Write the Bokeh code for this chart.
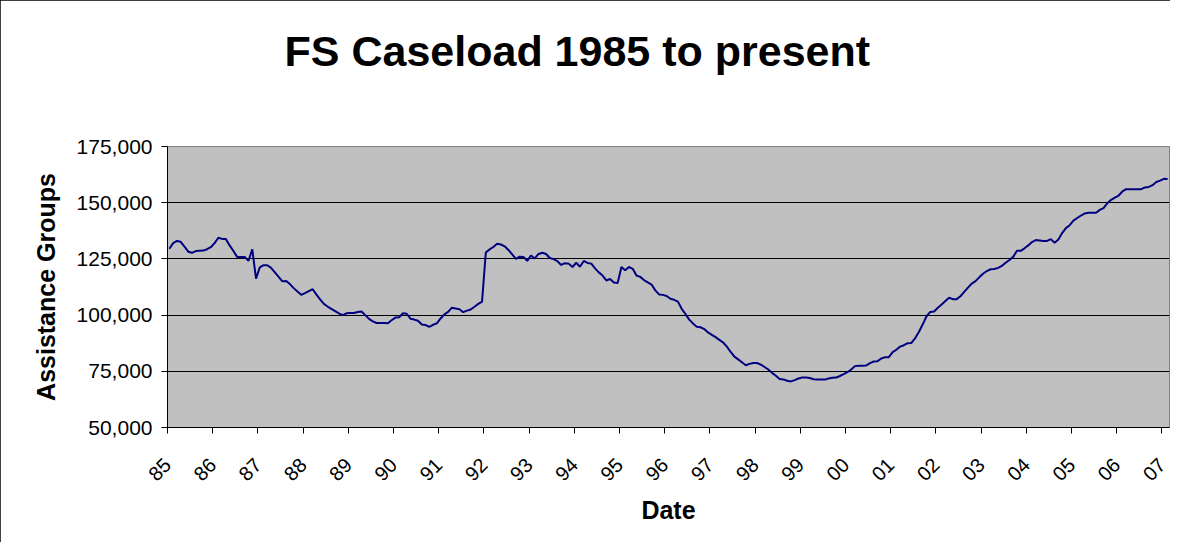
import math
import numpy as np
from bokeh.plotting import figure
from bokeh.models import Range1d, FixedTicker, NumeralTickFormatter, LinearAxis
from bokeh.embed import file_html
from bokeh.resources import INLINE

title_text = "FS Caseload 1985 to present"
x_title = "Date"
y_title = "Assistance Groups"

year_labels = ["85", "86", "87", "88", "89", "90", "91", "92", "93", "94", "95",
               "96", "97", "98", "99", "00", "01", "02", "03", "04", "05", "06", "07"]

# Monthly caseload, Jan 1985 .. Feb 2007
v1985 = [129500, 132000, 133000, 132600, 130500, 128200, 127700, 128500, 128600, 128700, 129300, 130200]
v1986 = [132000, 134400, 133900, 133800, 131000, 128500, 125900, 125900, 125900, 124100, 129300, 116200]
v1987 = [121200, 122200, 122200, 121000, 119000, 117000, 115000, 115200, 113800, 112000, 110500, 109000]
v1988 = [109800, 110700, 111600, 109200, 107000, 105000, 103800, 102800, 101800, 100800, 100000, 100800]
v1989 = [100900, 100900, 101400, 101600, 100000, 98300, 97200, 96500, 96500, 96500, 96400, 97700]
v1990 = [98900, 99000, 100800, 100600, 98400, 98000, 97500, 95800, 95600, 94800, 95700, 96300]
v1991 = [98500, 100300, 101400, 103300, 102900, 102600, 101300, 102000, 102500, 103700, 105000, 106000]
v1992 = [127800, 129200, 130300, 131700, 131400, 130600, 129000, 127000, 125000, 126000, 125900, 124100]
v1993 = [126500, 125200, 127200, 127700, 127200, 125400, 124900, 124000, 122300, 123100, 122900, 121400]
v1994 = [123300, 121500, 124100, 123200, 122900, 120800, 119000, 117600, 115400, 116100, 114500, 114300]
v1995 = [121400, 119900, 121400, 120600, 117600, 117000, 115600, 114600, 113600, 111000, 109200, 109000]
v1996 = [108500, 107300, 106800, 106000, 102800, 100500, 98000, 96300, 94800, 94600, 93800, 92300]
v1997 = [91200, 90200, 89000, 87800, 86000, 83600, 81500, 80300, 79000, 77700, 78300, 78700]
v1998 = [78700, 78000, 76900, 75800, 74300, 73000, 71600, 71400, 70800, 70500, 71100, 71800]
v1999 = [72200, 72200, 72000, 71500, 71300, 71300, 71300, 71800, 72100, 72200, 72900, 73700]
v2000 = [74600, 75800, 77300, 77500, 77500, 77600, 78600, 79400, 79500, 80700, 81300, 81300]
v2001 = [83500, 84600, 86000, 86600, 87500, 87600, 89800, 92600, 95900, 99500, 101400, 101600]
v2002 = [103300, 104700, 106300, 107700, 107100, 107100, 108400, 110300, 112200, 114000, 115100, 116800]
v2003 = [118400, 119600, 120400, 120500, 121000, 121900, 123300, 124500, 125900, 128600, 128600, 129700]
v2004 = [131000, 132500, 133400, 133200, 133000, 133000, 133800, 132200, 133600, 136500, 138700, 140000]
v2005 = [142000, 143200, 144300, 145200, 145500, 145500, 145500, 146800, 147600, 149800, 151300, 152300]
v2006 = [153200, 155000, 156000, 156000, 156000, 156000, 156000, 156800, 157000, 157800, 159200, 159800]
v2007 = [160600, 160500]

caseload = (v1985 + v1986 + v1987 + v1988 + v1989 + v1990 + v1991 + v1992 + v1993 +
            v1994 + v1995 + v1996 + v1997 + v1998 + v1999 + v2000 + v2001 + v2002 +
            v2003 + v2004 + v2005 + v2006 + v2007)

n = len(caseload)
x = np.arange(n) + 0.5  # category centres (monthly)

FONT = "Liberation Sans"

p = figure(width=1170, height=542, output_backend="svg", toolbar_location=None,
           x_range=Range1d(0, n), y_range=Range1d(50000, 175000),
           min_border_left=167, min_border_right=1, min_border_top=146,
           min_border_bottom=115)

p.styles = {"outline": "1px solid black", "outline-offset": "-1px"}

p.border_fill_color = "white"
p.background_fill_color = "#C0C0C0"
p.outline_line_color = "#808080"
p.outline_line_width = 1

# chart title: drawn as the single label of a bare axis above the frame,
# positioned on a 0..1000 helper range (fraction of frame width)
p.extra_x_ranges = {"title_pos": Range1d(0, 1000)}
title_axis = LinearAxis(x_range_name="title_pos", ticker=FixedTicker(ticks=[409]),
                        major_label_overrides={409: title_text},
                        major_tick_line_color=None, minor_tick_line_color=None,
                        axis_line_color=None, major_label_standoff=66,
                        major_label_text_font=FONT, major_label_text_font_size="43px",
                        major_label_text_font_style="bold",
                        major_label_text_color="black")
p.add_layout(title_axis, "above")

p.line(x, caseload, line_color="#000080", line_width=2)

# grid
p.xgrid.visible = False
p.ygrid.grid_line_color = "black"
p.ygrid.grid_line_width = 1

# y axis
p.yaxis.ticker = FixedTicker(ticks=[50000, 75000, 100000, 125000, 150000, 175000])
p.yaxis.formatter = NumeralTickFormatter(format="0,0")
p.yaxis.major_label_text_font = FONT
p.yaxis.major_label_text_font_size = "21px"
p.yaxis.major_label_text_color = "black"
p.yaxis.major_tick_in = 0
p.yaxis.major_tick_out = 6
p.yaxis.minor_tick_line_color = None
p.yaxis.major_label_standoff = 9
p.yaxis.axis_line_color = "black"
p.yaxis.major_tick_line_color = "black"
p.yaxis.axis_label = y_title
p.yaxis.axis_label_text_font = FONT
p.yaxis.axis_label_text_font_size = "25px"
p.yaxis.axis_label_text_font_style = "bold"
p.yaxis.axis_label_text_color = "black"
p.yaxis.axis_label_standoff = 14

# x axis
xaxis = p.below[0]
tick_pos = [12 * i for i in range(len(year_labels))]
xaxis.ticker = FixedTicker(ticks=tick_pos)
xaxis.major_label_overrides = {t: lab for t, lab in zip(tick_pos, year_labels)}
xaxis.major_label_orientation = math.pi / 4
xaxis.major_label_text_font = FONT
xaxis.major_label_text_font_size = "20px"
xaxis.major_label_text_color = "black"
xaxis.major_tick_in = 0
xaxis.major_tick_out = 6
xaxis.minor_tick_line_color = None
xaxis.major_label_standoff = 28
xaxis.axis_line_color = "black"
xaxis.major_tick_line_color = "black"
xaxis.axis_label = x_title
xaxis.axis_label_text_font = FONT
xaxis.axis_label_text_font_size = "25px"
xaxis.axis_label_text_font_style = "bold"
xaxis.axis_label_text_color = "black"
xaxis.axis_label_standoff = 6

open("out.html", "w").write(file_html(p, INLINE))
